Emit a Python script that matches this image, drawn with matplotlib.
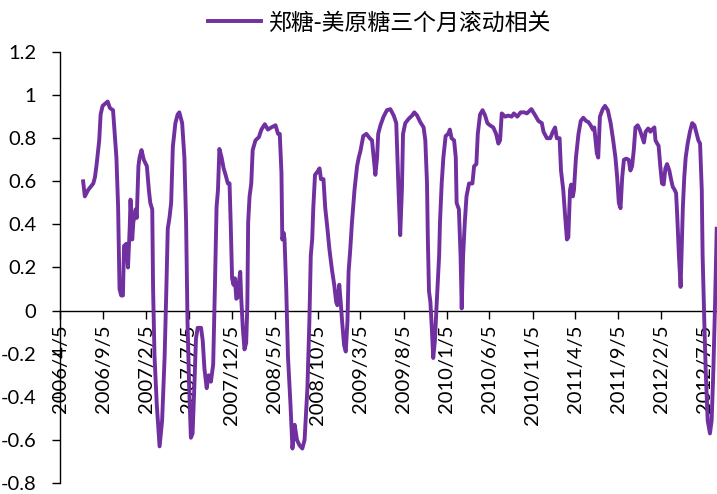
# -*- coding: utf-8 -*-
import matplotlib
matplotlib.use('Agg')
from matplotlib import pyplot as plt
import pandas as pd

PURPLE = '#7030A0'
SERIES_NAME = '郑糖-美原糖三个月滚动相关'

TICK_LABELS = ['2006/4/5', '2006/9/5', '2007/2/5', '2007/7/5', '2007/12/5', '2008/5/5',
               '2008/10/5', '2009/3/5', '2009/8/5', '2010/1/5', '2010/6/5', '2010/11/5',
               '2011/4/5', '2011/9/5', '2012/2/5', '2012/7/5']
Y_TICKS = [-0.8, -0.6, -0.4, -0.2, 0, 0.2, 0.4, 0.6, 0.8, 1.0, 1.2]
Y_LABELS = ['-0.8', '-0.6', '-0.4', '-0.2', '0', '0.2', '0.4', '0.6', '0.8', '1', '1.2']

# rolling 3-month correlation, month-day per year
D2006 = ['06-26', '07-02', '07-14', '08-01', '08-07', '08-13', '08-22', '08-27', '09-03', '09-12',
         '09-21', '09-29', '10-10', '10-22', '10-28', '10-31', '11-02', '11-08', '11-14', '11-18',
         '11-26', '12-02', '12-08', '12-11', '12-17', '12-21', '12-29']
V2006 = [0.60, 0.53, 0.56, 0.59, 0.62, 0.68, 0.79, 0.91, 0.95, 0.96,
         0.97, 0.94, 0.93, 0.71, 0.48, 0.25, 0.10, 0.07, 0.07, 0.30,
         0.31, 0.20, 0.38, 0.515, 0.33, 0.41, 0.47]

D2007 = ['01-02', '01-08', '01-12', '01-19', '01-27', '02-07', '02-14', '02-19', '02-26', '03-01',
         '03-06', '03-14', '03-24', '04-02', '04-11', '04-17', '04-22', '04-28', '05-04', '05-10',
         '05-19', '05-27', '06-02', '06-12', '06-20', '06-26', '07-01', '07-07', '07-13', '07-19',
         '07-25', '07-31', '08-06', '08-18', '08-24', '08-30', '09-07', '09-14', '09-22', '09-30',
         '10-06', '10-12', '10-17', '10-22', '10-30', '11-06', '11-13', '11-21', '11-27', '12-01',
         '12-06', '12-11', '12-16', '12-21', '12-25', '12-30']
V2007 = [0.43, 0.67, 0.71, 0.745, 0.70, 0.67, 0.56, 0.50, 0.47, 0.10,
         -0.21, -0.435, -0.63, -0.51, -0.21, 0.10, 0.38, 0.43, 0.50, 0.76,
         0.87, 0.91, 0.92, 0.87, 0.71, 0.41, -0.05, -0.36, -0.59, -0.57,
         -0.36, -0.13, -0.08, -0.08, -0.14, -0.27, -0.36, -0.30, -0.33, -0.25,
         0.10, 0.48, 0.56, 0.75, 0.71, 0.66, 0.63, 0.59, 0.59, 0.41,
         0.15, 0.12, 0.15, 0.055, 0.06, 0.13]

D2008 = ['01-04', '01-07', '01-13', '01-19', '01-25', '01-29', '02-01', '02-06', '02-12', '02-17',
         '02-27', '03-10', '03-19', '03-31', '04-11', '04-23', '05-08', '05-17', '05-23', '05-29',
         '06-01', '06-06', '06-09', '06-15', '06-21', '06-30', '07-07', '07-15', '07-23', '08-01',
         '08-11', '08-19', '08-29', '09-05', '09-10', '09-15', '09-19', '09-25', '10-04', '10-11',
         '10-16', '10-25', '10-31', '11-08', '11-15', '11-24', '12-02', '12-09', '12-13', '12-20',
         '12-25', '12-30']
V2008 = [0.18, 0.07, -0.08, -0.18, -0.15, 0.02, 0.41, 0.53, 0.59, 0.745,
         0.79, 0.805, 0.84, 0.865, 0.84, 0.85, 0.86, 0.82, 0.82, 0.64,
         0.33, 0.36, 0.33, 0.10, -0.21, -0.435, -0.64, -0.53, -0.60, -0.625,
         -0.64, -0.60, -0.36, -0.05, 0.255, 0.33, 0.48, 0.63, 0.645, 0.66,
         0.61, 0.61, 0.48, 0.38, 0.285, 0.19, 0.12, 0.04, 0.025, 0.12,
         0.04, -0.05]

D2009 = ['01-06', '01-12', '01-18', '01-22', '01-28', '02-03', '02-12', '02-21', '02-27', '03-05',
         '03-15', '03-26', '04-07', '04-15', '04-21', '04-27', '05-03', '05-07', '05-15', '05-26',
         '06-07', '06-19', '07-01', '07-10', '07-18', '07-24', '07-30', '08-03', '08-11', '08-23',
         '09-04', '09-12', '09-22', '10-03', '10-15', '10-21', '10-27', '10-30', '11-03', '11-08',
         '11-13', '11-18', '11-24', '11-30', '12-09', '12-12', '12-18', '12-24']
V2009 = [-0.16, -0.19, -0.05, 0.18, 0.285, 0.41, 0.56, 0.67, 0.71, 0.74,
         0.81, 0.82, 0.80, 0.79, 0.71, 0.63, 0.71, 0.82, 0.86, 0.90,
         0.93, 0.935, 0.905, 0.87, 0.56, 0.35, 0.56, 0.82, 0.87, 0.89,
         0.905, 0.92, 0.905, 0.875, 0.85, 0.79, 0.59, 0.33, 0.09, 0.04,
         -0.08, -0.22, -0.14, 0.025, 0.255, 0.41, 0.59, 0.71]

D2010 = ['01-01', '01-10', '01-16', '01-22', '01-31', '02-06', '02-09', '02-17', '02-23', '02-27',
         '03-04', '03-10', '03-16', '03-25', '04-06', '04-12', '04-20', '04-25', '05-03', '05-12',
         '05-21', '05-29', '06-07', '06-19', '06-29', '07-07', '07-13', '07-19', '07-31', '08-11',
         '08-23', '08-31', '09-12', '09-24', '10-07', '10-16', '11-01', '11-15', '11-26', '12-08',
         '12-14', '12-26']
V2010 = [0.81, 0.82, 0.84, 0.80, 0.79, 0.71, 0.50, 0.47, 0.255, 0.01,
         0.255, 0.41, 0.53, 0.59, 0.59, 0.67, 0.68, 0.82, 0.91, 0.93,
         0.905, 0.87, 0.86, 0.85, 0.82, 0.775, 0.79, 0.915, 0.90, 0.905,
         0.90, 0.915, 0.90, 0.92, 0.92, 0.915, 0.935, 0.905, 0.88, 0.87,
         0.83, 0.80]

D2011 = ['01-07', '01-16', '01-24', '01-30', '02-09', '02-14', '02-22', '02-28', '03-07', '03-12',
         '03-18', '03-22', '03-28', '04-01', '04-08', '04-17', '04-25', '05-04', '05-14', '05-22',
         '05-30', '06-07', '06-12', '06-21', '06-26', '07-02', '07-12', '07-20', '07-30', '08-09',
         '08-18', '08-26', '09-01', '09-07', '09-13', '09-19', '09-25', '10-03', '10-12', '10-18',
         '10-24', '10-30', '11-05', '11-13', '11-20', '11-29', '12-05', '12-11', '12-20', '12-28']
V2011 = [0.80, 0.83, 0.85, 0.80, 0.80, 0.65, 0.56, 0.45, 0.33, 0.34,
         0.56, 0.585, 0.53, 0.56, 0.71, 0.82, 0.88, 0.895, 0.88, 0.875,
         0.86, 0.84, 0.85, 0.73, 0.71, 0.90, 0.935, 0.95, 0.93, 0.87,
         0.79, 0.71, 0.62, 0.50, 0.475, 0.62, 0.70, 0.705, 0.70, 0.65,
         0.67, 0.745, 0.85, 0.86, 0.84, 0.805, 0.78, 0.83, 0.845, 0.83]

D2012 = ['01-03', '01-11', '01-15', '01-21', '01-26', '02-01', '02-07', '02-13', '02-19', '02-25',
         '03-04', '03-10', '03-16', '03-23', '03-28', '04-01', '04-07', '04-13', '04-16', '04-21',
         '04-26', '05-01', '05-08', '05-16', '05-24', '06-01', '06-09', '06-15', '06-21', '06-27',
         '06-30', '07-06', '07-11', '07-18', '07-26', '08-01', '08-07', '08-13', '08-19']
V2012 = [0.84, 0.85, 0.79, 0.775, 0.765, 0.67, 0.59, 0.585, 0.66, 0.68,
         0.65, 0.61, 0.575, 0.56, 0.545, 0.44, 0.255, 0.11, 0.255, 0.48,
         0.62, 0.71, 0.775, 0.83, 0.87, 0.86, 0.82, 0.79, 0.775, 0.56,
         0.255, -0.05, -0.28, -0.51, -0.57, -0.51, -0.28, 0.025, 0.38]


def build_series():
    dates, values = [], []
    for year, days, vals in [(2006, D2006, V2006), (2007, D2007, V2007), (2008, D2008, V2008),
                             (2009, D2009, V2009), (2010, D2010, V2010), (2011, D2011, V2011),
                             (2012, D2012, V2012)]:
        dates += [f'{year}-{d}' for d in days]
        values += vals
    return pd.to_datetime(dates), values


def plot_corr():
    plt.rcParams['font.family'] = ['Lato', 'DejaVu Sans']
    plt.rcParams['axes.unicode_minus'] = False

    dates, values = build_series()
    ticks = pd.to_datetime(TICK_LABELS, format='%Y/%m/%d')

    fig = plt.figure(figsize=(7.17, 4.94), dpi=100)
    ax = fig.add_axes([60 / 717, 11 / 494, 657 / 717, 431 / 494])

    line, = ax.plot(dates, values, color=PURPLE, lw=2.8, zorder=3, solid_joinstyle='round')

    ax.set_xlim(pd.Timestamp('2006-04-05'), pd.Timestamp('2012-08-20'))
    ax.set_ylim(-0.8, 1.2)

    ax.spines['top'].set_visible(False)
    ax.spines['right'].set_visible(False)
    ax.spines['bottom'].set_position(('data', 0))
    for s in ['left', 'bottom']:
        ax.spines[s].set_linewidth(1.0)
        ax.spines[s].set_color('black')

    ax.set_xticks(ticks)
    ax.set_xticklabels(TICK_LABELS, rotation=90)
    ax.set_yticks(Y_TICKS)
    ax.set_yticklabels(Y_LABELS)
    ax.tick_params(axis='x', direction='out', length=6, width=1.0, pad=4, labelsize=14.5)
    ax.tick_params(axis='y', direction='out', length=6, width=1.0, pad=11, labelsize=14.5)

    fig.legend([line], [SERIES_NAME], loc='center', bbox_to_anchor=(379 / 717, 1 - 23 / 494),
               frameon=False, prop={'family': ['Noto Sans CJK SC', 'DejaVu Sans'], 'size': 16.5},
               handlelength=2.3, handletextpad=0.3)

    plt.savefig('out.png', dpi=100)
    plt.close()


if __name__ == '__main__':
    plot_corr()
